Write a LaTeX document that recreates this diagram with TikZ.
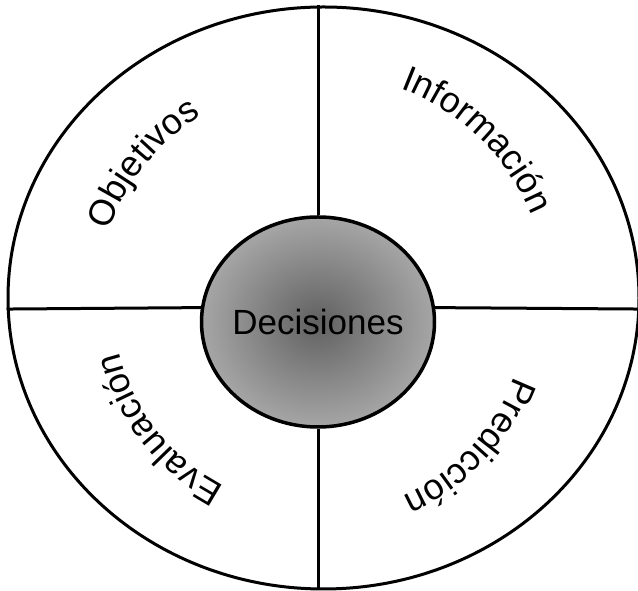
\documentclass[tikz,border=0pt]{standalone}
\usepackage{fontspec}
\setmainfont{Liberation Sans}
\usetikzlibrary{shapes.geometric, decorations.text}
\newcommand{\lblfont}{\fontsize{36}{36}\selectfont}

\begin{document}
\begin{tikzpicture}[
    x=1pt, y=1pt,
    rim/.style={ellipse, draw, line width=3pt, minimum width=631pt, minimum height=582pt, inner sep=0pt},
    hub/.style={ellipse, draw, line width=3.5pt, minimum width=233pt, minimum height=210pt, inner sep=0pt,
        inner xsep=-12pt, inner color=black!62, outer color=black!35, font=\fontsize{35}{35}\selectfont},
    split/.style={line width=3pt},
    arclabel/.style={decorate, decoration={text along path, text align=center, text={|\lblfont|#1}}}
]
\useasboundingbox (0,0) rectangle (638,591);

\node[rim] (rim) at (323.5,293) {};
\node[hub] (dec) at (318,269) {Decisiones};
\coordinate (mid) at (318,286);

\draw[split] (dec.north) -- (dec.north |- rim.north);
\draw[split] (dec.south) -- (dec.south |- rim.south);
\draw[split] (dec.173) -- (rim.182);
\draw[split] (dec.7) -- (rim.358);

% Labels
\path[arclabel=Objetivos] ([shift={(201:222)}]mid) arc[start angle=201, end angle=81, radius=222];
\path[arclabel=Información] ([shift={(106:232)}]mid) arc[start angle=106, end angle=-14, radius=232];
\path[arclabel=Predicción] ([shift={(17:209)}]mid) arc[start angle=17, end angle=-103, radius=209];
\path[arclabel=Evaluación] ([shift={(278:204)}]mid) arc[start angle=278, end angle=158, radius=204];

\end{tikzpicture}
\end{document}
